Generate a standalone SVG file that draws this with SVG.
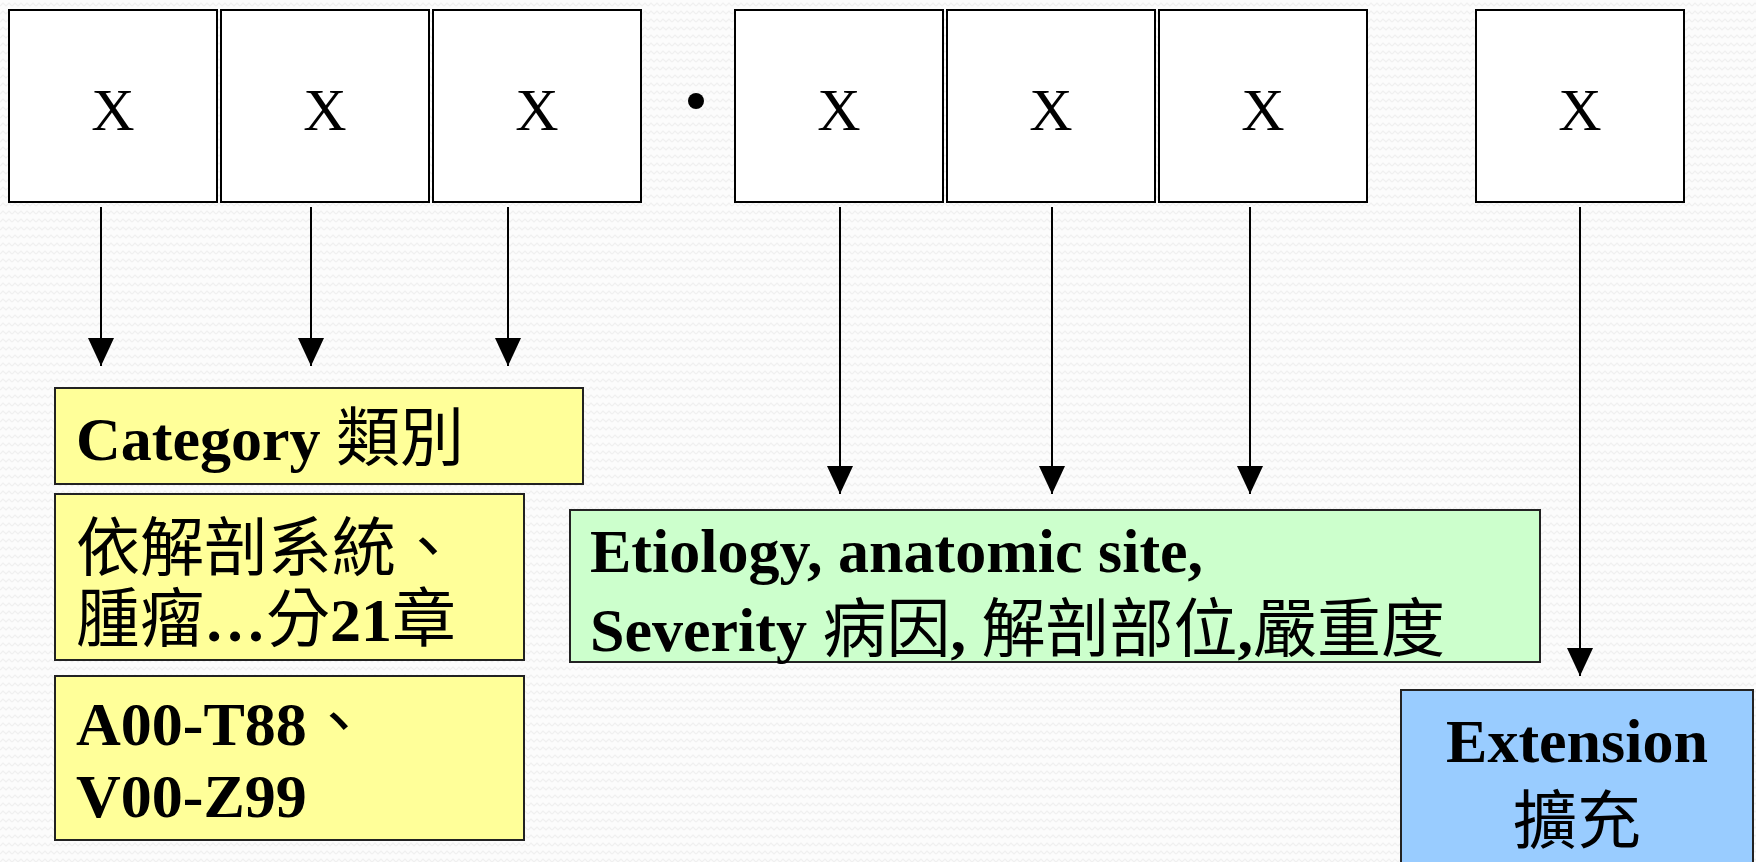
<svg xmlns="http://www.w3.org/2000/svg" width="1756" height="862" viewBox="0 0 1756 862">
<defs>
<pattern id="bgp" width="12" height="8" patternUnits="userSpaceOnUse">
<rect width="12" height="8" fill="#fcfcfc"/>
<polyline points="0,6 3,3 6,6 9,3 12,6" fill="none" stroke="#f0f0f0" stroke-width="1.2"/>
</pattern>
<marker id="ah2" viewBox="0 0 28 26" refX="28" refY="13" markerWidth="28" markerHeight="26" markerUnits="userSpaceOnUse" orient="auto">
<path d="M0,0 L28,13 L0,26 Z" fill="#000"/>
</marker>
</defs>
<style>
.digit{fill:#fff;stroke:#000;stroke-width:2}
.x{font-family:"Liberation Serif","Noto Sans CJK TC",serif;font-size:60px;text-anchor:middle;fill:#000}
.lab{font-family:"Liberation Serif","Noto Sans CJK TC",serif;font-size:62px;font-weight:bold;fill:#000}
.cjk{font-family:"Noto Sans CJK TC",sans-serif;font-weight:normal;font-size:64px}
.yel{fill:#ffff99;stroke:#222;stroke-width:2}
.grn{fill:#ccffcc;stroke:#222;stroke-width:2}
.blu{fill:#99ccff;stroke:#222;stroke-width:2}
.conn line{stroke:#000;stroke-width:2;marker-end:url(#ah2)}
</style>
<rect width="1756" height="862" fill="url(#bgp)"/>

<g id="d1"><rect class="digit" x="9" y="10" width="208" height="192"/><text class="x" x="113" y="130">X</text></g>
<g id="d2"><rect class="digit" x="221" y="10" width="208" height="192"/><text class="x" x="325" y="130">X</text></g>
<g id="d3"><rect class="digit" x="433" y="10" width="208" height="192"/><text class="x" x="537" y="130">X</text></g>
<g id="dot"><circle cx="696" cy="101" r="8" fill="#000"/></g>
<g id="d4"><rect class="digit" x="735" y="10" width="208" height="192"/><text class="x" x="839" y="130">X</text></g>
<g id="d5"><rect class="digit" x="947" y="10" width="208" height="192"/><text class="x" x="1051" y="130">X</text></g>
<g id="d6"><rect class="digit" x="1159" y="10" width="208" height="192"/><text class="x" x="1263" y="130">X</text></g>
<g id="d7"><rect class="digit" x="1476" y="10" width="208" height="192"/><text class="x" x="1580" y="130">X</text></g>

<g class="conn">
<line x1="101" y1="207" x2="101" y2="366"/>
<line x1="311" y1="207" x2="311" y2="366"/>
<line x1="508" y1="207" x2="508" y2="366"/>
<line x1="840" y1="207" x2="840" y2="494"/>
<line x1="1052" y1="207" x2="1052" y2="494"/>
<line x1="1250" y1="207" x2="1250" y2="494"/>
<line x1="1580" y1="207" x2="1580" y2="676"/>
</g>

<g id="category"><rect class="yel" x="55" y="388" width="528" height="96"/>
<text class="lab" x="76" y="460">Category <tspan class="cjk">類別</tspan></text></g>

<g id="chapters"><rect class="yel" x="55" y="494" width="469" height="166"/>
<text class="lab" x="76" y="570"><tspan class="cjk">依解剖系統、</tspan></text>
<text class="lab" x="76" y="641"><tspan class="cjk">腫瘤</tspan>…<tspan class="cjk">分</tspan>21<tspan class="cjk">章</tspan></text></g>

<g id="range"><rect class="yel" x="55" y="676" width="469" height="164"/>
<text class="lab" x="76" y="745">A00-T88<tspan class="cjk">、</tspan></text>
<text class="lab" x="76" y="817">V00-Z99</text></g>

<g id="etiology"><rect class="grn" x="570" y="510" width="970" height="152"/>
<text class="lab" x="590" y="572">Etiology, anatomic site,</text>
<text class="lab" x="590" y="651">Severity <tspan class="cjk">病因</tspan>, <tspan class="cjk">解剖部位</tspan>,<tspan class="cjk">嚴重度</tspan></text></g>

<g id="extension"><rect class="blu" x="1401" y="690" width="352" height="190"/>
<text class="lab" x="1577" y="762" text-anchor="middle">Extension</text>
<text class="lab" x="1577" y="843" text-anchor="middle"><tspan class="cjk">擴充</tspan></text></g>
</svg>
